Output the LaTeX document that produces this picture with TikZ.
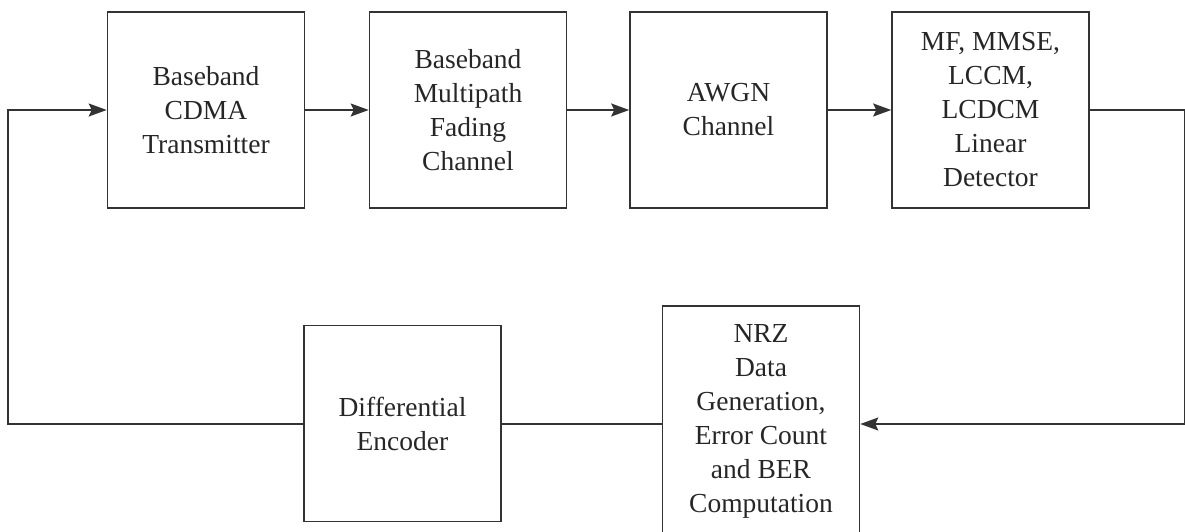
\documentclass[tikz,border=0pt]{standalone}
\usepackage{fontspec}
\setmainfont{Liberation Serif}
\usetikzlibrary{arrows.meta}
\begin{document}
\begin{tikzpicture}[x=1pt,y=-1pt,
  blk/.style={draw=black!80,line width=1.6pt,minimum width=197pt,minimum height=196pt,
    align=center,inner sep=0pt,text=black!85,
    font=\fontsize{27.5}{34}\selectfont},
  conn/.style={draw=black!80,line width=1.6pt},
  arr/.style={conn,-{Stealth[length=18pt,width=13pt,inset=3pt]}}]
\useasboundingbox (0,0) rectangle (1185,532);
\node[blk] (tx) at (206,110) {Baseband\\CDMA\\Transmitter};
\node[blk] (fad) at (468,110) {Baseband\\Multipath\\Fading\\Channel};
\node[blk] (awgn) at (728.5,110) {AWGN\\Channel};
\node[blk] (det) at (990.5,110) {MF, MMSE,\\LCCM,\\LCDCM\\Linear\\Detector};
\node[blk] (enc) at (402.5,423.5) {Differential\\Encoder};
\node[blk,minimum height=230pt] (nrz) at (761,421) {NRZ\\Data\\Generation,\\Error Count\\and BER\\Computation};
\coordinate (r1) at (1184.5,110);
\coordinate (r2) at (1184.5,424);
\coordinate (l1) at (8,424);
\coordinate (l2) at (8,110);
\draw[arr] (tx.east) -- (fad.west);
\draw[arr] (fad.east) -- (awgn.west);
\draw[arr] (awgn.east) -- (det.west);
\draw[arr] (det.east) -- (r1) -- (r2) -- (nrz.east |- r2);
\draw[conn] (nrz.west |- r2) -- (enc.east |- r2);
\draw[arr] (enc.west |- r2) -- (l1) -- (l2) -- (tx.west);
\end{tikzpicture}
\end{document}
